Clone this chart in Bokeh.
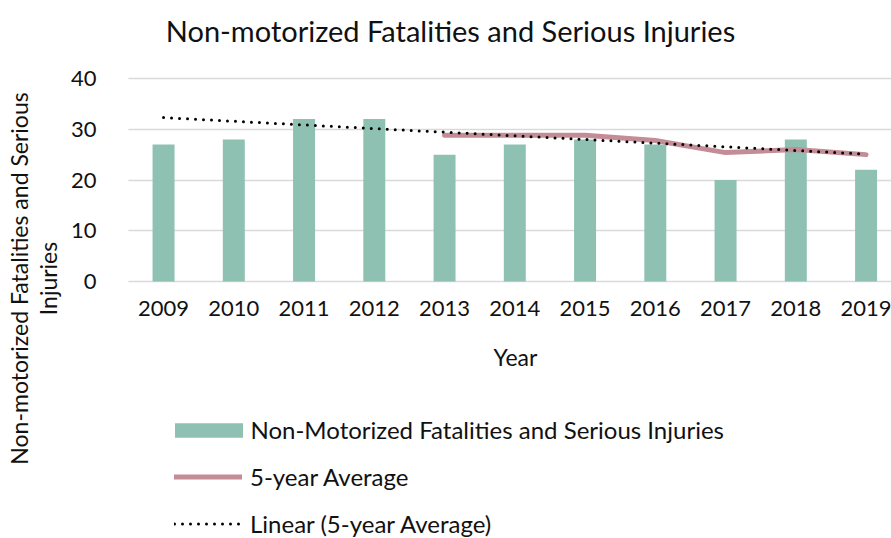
import math
from bokeh.plotting import figure
from bokeh.models import (Range1d, FixedTicker, Legend, LegendItem, Label,
                          LinearAxis, Grid)
from bokeh.embed import file_html
from bokeh.resources import INLINE

# ---- data ----
years = [2009, 2010, 2011, 2012, 2013, 2014, 2015, 2016, 2017, 2018, 2019]
counts = [27, 28, 32, 32, 25, 27, 28, 27, 20, 28, 22]
avg_years = [2013, 2014, 2015, 2016, 2017, 2018, 2019]
avg5 = [28.8, 28.8, 28.8, 27.8, 25.4, 26.0, 25.0]
trend_years = [2009, 2019]
trend_vals = [32.3, 25.1]
y_ticks = [0, 10, 20, 30, 40]

title_text = "Non-motorized Fatalities and Serious Injuries"
y_title_1 = "Non-motorized Fatalities and Serious"
y_title_2 = "Injuries"
x_title = "Year"
bar_name = "Non-Motorized Fatalities and Serious Injuries"
avg_name = "5-year Average"
trend_name = "Linear (5-year Average)"

FONT = "Lato"
TXT = "#111111"
BAR = "#8fc1b3"
AVG = "#c48c97"

# the plotting frame fills the whole canvas; data ranges chosen so that the
# value axis 0..40 and the year axis sit where the reference puts them
X0, X1 = 2006.679, 2019.362
Y0, Y1 = -50.64, 55.37
PLOT_X_START = 2008.5

p = figure(width=891, height=538, output_backend="svg", toolbar_location=None,
           x_range=Range1d(X0, X1), y_range=Range1d(Y0, Y1),
           x_axis_type=None, y_axis_type=None, min_border=0)
p.outline_line_color = None

# axes, fixed at the value 0 and at the start of the category band
xaxis = LinearAxis(fixed_location=0, ticker=FixedTicker(ticks=years))
yaxis = LinearAxis(fixed_location=PLOT_X_START, ticker=FixedTicker(ticks=y_ticks))
for ax in (xaxis, yaxis):
    ax.axis_line_color = None
    ax.major_tick_line_color = None
    ax.minor_tick_line_color = None
    ax.major_label_text_font = FONT
    ax.major_label_text_font_size = "22px"
    ax.major_label_text_color = TXT
xaxis.major_label_standoff = 13
yaxis.major_label_standoff = 26
p.add_layout(xaxis, "below")
p.add_layout(yaxis, "left")

grid = Grid(dimension=1, ticker=yaxis.ticker, grid_line_color="#d9d9d9",
            grid_line_width=1.5)
try:
    grid.cross_bounds = (PLOT_X_START, X1)
    p.add_layout(grid)
except AttributeError:
    p.segment(x0=[PLOT_X_START] * len(y_ticks), x1=[X1] * len(y_ticks),
              y0=y_ticks, y1=y_ticks, line_color="#d9d9d9", line_width=1.5)

bars = p.vbar(x=years, top=counts, width=0.313, fill_color=BAR, line_color=None)
avg_line = p.line(avg_years, avg5, line_color=AVG, line_width=5, line_cap="round",
                  line_join="round")
trend_line = p.line(trend_years, trend_vals, line_color="black", line_width=3,
                    line_dash="0 8", line_cap="round")

# texts (screen units measured from the bottom-left of the canvas)
p.add_layout(Label(x=450, y=508, x_units="screen", y_units="screen", text=title_text,
                   text_font=FONT, text_font_size="29px", text_color=TXT,
                   text_align="center", text_baseline="middle"))
p.add_layout(Label(x=515, y=182, x_units="screen", y_units="screen", text=x_title,
                   text_font=FONT, text_font_size="23px", text_color=TXT,
                   text_align="center", text_baseline="middle"))
p.add_layout(Label(x=18, y=260, x_units="screen", y_units="screen", text=y_title_1,
                   angle=math.pi / 2, text_font=FONT, text_font_size="23px",
                   text_color=TXT, text_align="center", text_baseline="middle"))
p.add_layout(Label(x=47, y=260, x_units="screen", y_units="screen", text=y_title_2,
                   angle=math.pi / 2, text_font=FONT, text_font_size="23px",
                   text_color=TXT, text_align="center", text_baseline="middle"))

legend_style = dict(orientation="vertical", label_height=24, padding=0, margin=0,
                    label_text_font=FONT, label_text_font_size="24px",
                    label_text_color=TXT, border_line_color=None,
                    background_fill_alpha=0)
# bar swatch: Bokeh insets area swatches by 10%, so the glyph box is a bit larger
legend_bar = Legend(items=[LegendItem(label=bar_name, renderers=[bars])],
                    location=(165.5, 94), glyph_width=85, glyph_height=18,
                    label_standoff=0, **legend_style)
legend_lines = Legend(items=[LegendItem(label=avg_name, renderers=[avg_line]),
                             LegendItem(label=trend_name, renderers=[trend_line])],
                      location=(174, 0), glyph_width=68, glyph_height=15,
                      spacing=18, label_standoff=8, **legend_style)
p.add_layout(legend_bar)
p.add_layout(legend_lines)

open("out.html", "w").write(file_html(p, INLINE))
